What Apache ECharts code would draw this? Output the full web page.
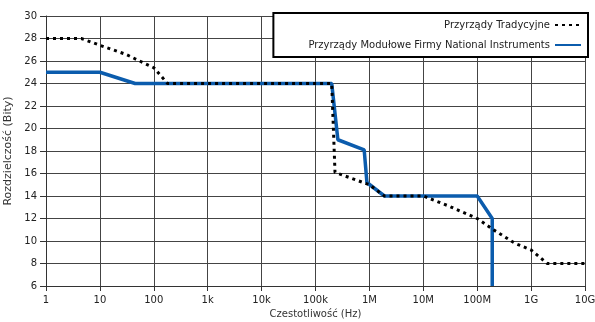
<!DOCTYPE html>
<html><head><meta charset="utf-8">
<script src="https://cdn.jsdelivr.net/npm/echarts@6/dist/echarts.min.js"></script>
<style>html,body{margin:0;padding:0;background:#fff}#c{width:595px;height:322px}</style>
</head><body><div id="c"></div>
<script>
const seriesNames = ['Przyrządy Tradycyjne', 'Przyrządy Modułowe Firmy National Instruments'];
const freqTrad = [1, 4.5, 10, 30, 100, 180, 2e5, 2.3e5, 1e6, 1.9e6, 1e7, 3e7, 1e8, 2e8, 5e8, 1e9, 2e9, 1e10];
const bitsTrad = [28, 28, 27.4, 26.6, 25.4, 24, 24, 16.1, 15, 14, 14, 13.1, 12, 11, 9.8, 9.2, 8, 8];
const freqMod = [1, 10, 45, 2e5, 2.6e5, 8e5, 9e5, 1.9e6, 1e8, 1.9e8, 1.9e8];
const bitsMod = [25, 25, 24, 24, 19, 18.1, 15.2, 14, 14, 12, 6];
const xTickLabels = {1:'1',10:'10',100:'100',1000:'1k',10000:'10k',100000:'100k',1000000:'1M',10000000:'10M',100000000:'100M',1000000000:'1G',10000000000:'10G'};
const xAxisTitle = 'Czestotliwość (Hz)';
const yAxisTitle = 'Rozdzielczość (Bity)';

const font = 'DejaVu Sans';
const chart = echarts.init(document.getElementById('c'), null, {renderer:'canvas'});
chart.setOption({
  animation: false,
  backgroundColor: '#fff',
  textStyle: {fontFamily: font},
  grid: {left: 46, top: 16, right: 10, bottom: 36, show: false, containLabel: false, outerBoundsMode: 'none'},
  legend: {
    data: [seriesNames[0], seriesNames[1]],
    orient: 'vertical', right: 7, top: 13, align: 'right',
    backgroundColor: '#fff', borderColor: '#000', borderWidth: 2,
    padding: [7, 6, 7, 35], itemGap: 10, itemWidth: 26, itemHeight: 12,
    itemStyle: {color: 'transparent', borderColor: 'transparent', borderWidth: 0},
    textStyle: {fontFamily: font, fontSize: 10, color: '#222'}
  },
  xAxis: {
    type: 'log', logBase: 10, min: 1, max: 1e10, interval: 1,
    name: xAxisTitle, nameLocation: 'middle', nameGap: 23,
    nameTextStyle: {fontFamily: font, fontSize: 10, color: '#333'},
    axisLine: {show: true, lineStyle: {color: '#333'}},
    axisTick: {show: true, length: 5, lineStyle: {color: '#333'}},
    minorTick: {show: false},
    axisLabel: {fontFamily: font, fontSize: 10, color: '#222', margin: 9,
      formatter: v => xTickLabels[Math.round(v)] || ''},
    splitLine: {show: true, lineStyle: {color: '#444', width: 1}}
  },
  yAxis: {
    type: 'value', min: 6, max: 30, interval: 2,
    name: yAxisTitle, nameLocation: 'middle', nameGap: 22, nameRotate: 90,
    nameTextStyle: {fontFamily: font, fontSize: 11, color: '#333'},
    axisLine: {show: true, lineStyle: {color: '#333'}},
    axisTick: {show: true, length: 6, lineStyle: {color: '#333'}},
    axisLabel: {fontFamily: font, fontSize: 10, color: '#222', margin: 9},
    splitLine: {show: true, lineStyle: {color: '#444', width: 1}}
  },
  series: [
    {
      name: seriesNames[1], type: 'line', symbol: 'none',
      data: freqMod.map((f, i) => [f, bitsMod[i]]),
      lineStyle: {color: '#0b5cad', width: 3.5},
      itemStyle: {color: '#0b5cad'}
    },
    {
      name: seriesNames[0], type: 'line', symbol: 'none',
      data: freqTrad.map((f, i) => [f, bitsTrad[i]]),
      lineStyle: {color: '#000', width: 3, type: [3, 4]},
      itemStyle: {color: '#000'}
    }
  ]
});
</script></body></html>
